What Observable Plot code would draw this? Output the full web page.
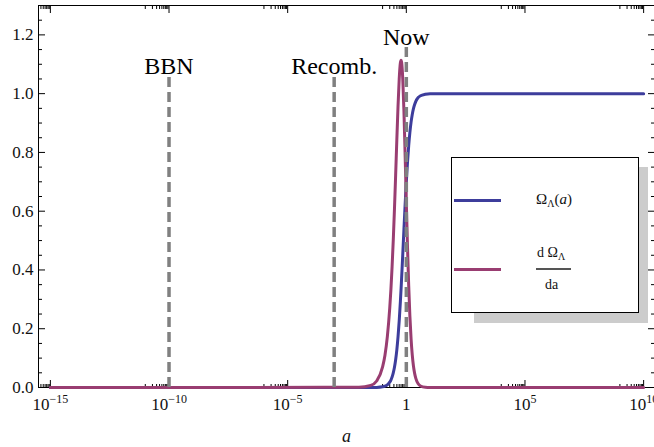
<!DOCTYPE html>
<html>
<head>
<meta charset="utf-8">
<script src="https://cdn.jsdelivr.net/npm/d3@7"></script>
<script src="https://cdn.jsdelivr.net/npm/@observablehq/plot@0.6"></script>
<style>
  html, body { margin: 0; padding: 0; background: #fff; }
  #wrap { position: relative; width: 654px; height: 447px; font-family: "Liberation Serif", "Times New Roman", serif; }
  #wrap svg { position: absolute; left: 0; top: 0; font-family: "Liberation Serif", serif !important; }
  #wrap svg text { font-family: "Liberation Serif", serif !important; }
  .shadow { position: absolute; left: 474px; top: 167px; width: 174px; height: 156px; background: #cccccc; }
  .legend { position: absolute; left: 451px; top: 157px; width: 186px; height: 154px; background: #fff; border: 1px solid #000; }
  .sw { position: absolute; left: 2px; width: 47px; height: 3px; }
  .lab { position: absolute; font-size: 14px; color: #111; white-space: nowrap; }
</style>
</head>
<body>
<div id="wrap"></div>
<script>
// log10(a) sample positions
const logA = [-15, -2, -1.5, -1.25, -1, -0.9, -0.8, -0.7, -0.65, -0.6, -0.55, -0.5, -0.45, -0.4, -0.35, -0.3, -0.25, -0.22, -0.2, -0.15, -0.1, -0.05, 0, 0.05, 0.1, 0.15, 0.2, 0.25, 0.3, 0.35, 0.4, 0.5, 0.6, 0.8, 1, 1.5, 10];
// Omega_Lambda(a)
const omegaL = [0, 0, 0.0001, 0.0004, 0.0023, 0.0046, 0.0092, 0.0182, 0.0255, 0.0357, 0.0496, 0.0687, 0.0944, 0.128, 0.172, 0.227, 0.293, 0.338, 0.370, 0.453, 0.539, 0.623, 0.700, 0.767, 0.823, 0.868, 0.903, 0.929, 0.949, 0.963, 0.974, 0.987, 0.993, 0.998, 1.0, 1.0, 1.0];
// dOmega_Lambda / da
const dOmega = [0, 0.0007, 0.007, 0.022, 0.070, 0.110, 0.173, 0.269, 0.333, 0.411, 0.502, 0.607, 0.723, 0.843, 0.957, 1.050, 1.105, 1.114, 1.108, 1.050, 0.939, 0.790, 0.630, 0.477, 0.347, 0.243, 0.166, 0.111, 0.073, 0.048, 0.031, 0.0125, 0.005, 0.0008, 0.0001, 0, 0];

// epoch markers
const epochNames = ["BBN", "Recomb.", "Now"];
const epochA = [1e-10, 9.1e-4, 1];
const epochTop = [1.055, 1.055, 1.157];

// ticks
const xMajor = [1e-15, 1e-10, 1e-5, 1, 1e5, 1e10];
const yMajor = [0, 0.2, 0.4, 0.6, 0.8, 1.0, 1.2];
const yMinor = [0.05, 0.1, 0.15, 0.25, 0.3, 0.35, 0.45, 0.5, 0.55, 0.65, 0.7, 0.75, 0.85, 0.9, 0.95, 1.05, 1.1, 1.15, 1.25];

const xDomain = [Math.pow(10, -15.5), Math.pow(10, 10.5)];
const xMinor = [];
for (const m of xMajor) {
  const e = Math.round(Math.log10(m)) - 1;
  for (let k = 1; k <= 9; k++) {
    const v = k * Math.pow(10, e);
    if (v >= xDomain[0] && v <= xDomain[1]) xMinor.push(v);
  }
}

const curveData = logA.map((e, i) => ({a: Math.pow(10, e), omega: omegaL[i], deriv: dOmega[i]}));
const epochs = epochNames.map((n, i) => ({name: n, a: epochA[i], top: epochTop[i]}));

const blue = "#3d3d9c";
const purple = "#993d71";
const font = "Liberation Serif";

const tickStyle = {fill: "none", label: null, stroke: "#000", strokeWidth: 1};

const chart = Plot.plot({
  width: 654,
  height: 447,
  marginLeft: 38,
  marginRight: 0,
  marginTop: 5,
  marginBottom: 60,
  style: {fontFamily: font, background: "transparent"},
  x: {type: "log", domain: xDomain, range: [38, 655], label: null},
  y: {domain: [0, 1.3], label: null},
  marks: [
    // frame
    Plot.ruleY([0], {stroke: "#000", strokeWidth: 1}),
    Plot.ruleY([1.3], {stroke: "#000", strokeWidth: 1}),
    Plot.ruleX([xDomain[0]], {stroke: "#000", strokeWidth: 1}),
    // y ticks (inward) left & right
    Plot.axisY({anchor: "left", ticks: yMajor, tickSize: -7, ...tickStyle}),
    Plot.axisY({anchor: "left", ticks: yMinor, tickSize: -4, ...tickStyle}),
    Plot.axisY({anchor: "right", ticks: yMajor, tickSize: -7, ...tickStyle}),
    Plot.axisY({anchor: "right", ticks: yMinor, tickSize: -4, ...tickStyle}),
    Plot.axisY({anchor: "left", ticks: yMajor, tickSize: 0, tickPadding: 5, label: null,
      tickFormat: d => d.toFixed(1), fontSize: 17, fontFamily: font, fill: "#111"}),
    // x ticks (inward) bottom & top
    Plot.axisX({anchor: "bottom", ticks: xMajor, tickSize: -7, ...tickStyle}),
    Plot.axisX({anchor: "bottom", ticks: xMinor, tickSize: -3, ...tickStyle}),
    Plot.axisX({anchor: "top", ticks: xMajor, tickSize: -7, ...tickStyle}),
    Plot.axisX({anchor: "top", ticks: xMinor, tickSize: -3, ...tickStyle}),
    Plot.axisX({anchor: "bottom", ticks: xMajor, tickSize: 0, tickPadding: 10, label: null,
      tickFormat: d => d === 1 ? "1" : "10^" + Math.round(Math.log10(d)), fontSize: 17, fontFamily: font, fill: "#111"}),
    // curves
    Plot.line(curveData, {x: "a", y: "omega", stroke: blue, strokeWidth: 3, curve: "monotone-x"}),
    Plot.line(curveData, {x: "a", y: "deriv", stroke: purple, strokeWidth: 3, curve: "monotone-x"}),
    // epoch markers
    Plot.ruleX(epochs, {x: "a", y1: 0, y2: "top", stroke: "#808080", strokeWidth: 3.5, strokeDasharray: "10,5"}),
    Plot.text(epochs, {x: "a", y: "top", text: "name", lineAnchor: "bottom", dy: -3, fontSize: 24, fontFamily: font, fill: "#000"}),
    // axis title
    Plot.text(["a"], {frameAnchor: "bottom", text: d => d, dy: 54, lineAnchor: "bottom", fontSize: 18, fontFamily: font, fontStyle: "italic", fill: "#111"})
  ]
});

const wrap = document.getElementById("wrap");
wrap.appendChild(chart);

// superscript exponents on x tick labels
chart.querySelectorAll('g[aria-label="x-axis tick label"] text').forEach(t => {
  const s = t.textContent;
  if (s.startsWith("10^")) {
    const exp = s.slice(3).replace("-", "\u2212");
    t.textContent = "";
    const base = document.createElementNS("http://www.w3.org/2000/svg", "tspan");
    base.textContent = "10";
    const sup = document.createElementNS("http://www.w3.org/2000/svg", "tspan");
    sup.textContent = exp;
    sup.setAttribute("font-size", "12");
    sup.setAttribute("dy", "-7");
    t.appendChild(base);
    t.appendChild(sup);
  }
});

// legend
const shadow = document.createElement("div");
shadow.className = "shadow";
wrap.appendChild(shadow);
const legend = document.createElement("div");
legend.className = "legend";
legend.innerHTML = `
  <div class="sw" style="top:41px;background:${blue}"></div>
  <div class="sw" style="top:110px;background:${purple}"></div>
  <div class="lab" style="left:84px;top:33px;font-size:15px;">Ω<sub style="font-size:10px;vertical-align:-3px;">Λ</sub>(<i>a</i>)</div>
  <div class="lab" style="left:85px;top:87px;font-size:14px;">d Ω<sub style="font-size:10px;vertical-align:-3px;">Λ</sub></div>
  <div style="position:absolute;left:84px;top:110px;width:35px;height:2px;background:#555;"></div>
  <div class="lab" style="left:93px;top:119px;font-size:14px;">da</div>
`;
wrap.appendChild(legend);
</script>
</body>
</html>
